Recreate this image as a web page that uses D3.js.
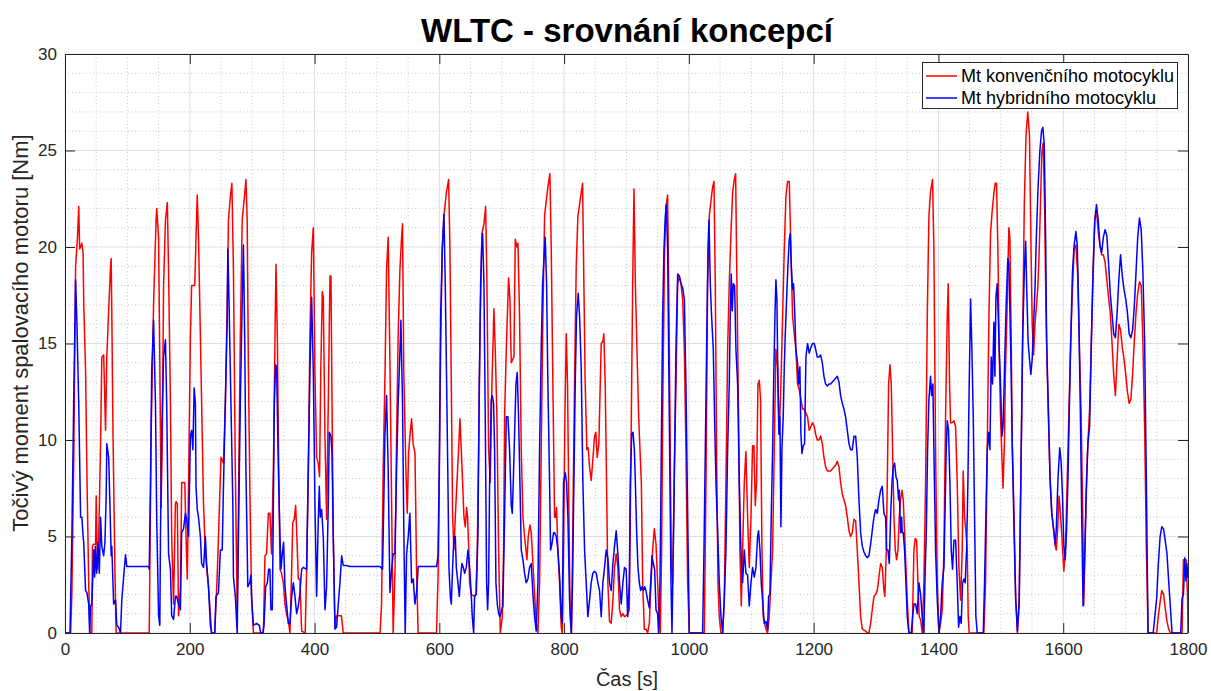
<!DOCTYPE html>
<html>
<head>
<meta charset="utf-8">
<script src="https://cdn.jsdelivr.net/npm/d3@7"></script>
<style>
  html, body { margin: 0; padding: 0; background: #ffffff; }
  svg { display: block; font-family: "Liberation Sans", Arial, Helvetica, sans-serif; }
</style>
</head>
<body>
<svg id="chart" width="1211" height="691"></svg>
<script>
// WLTC cycle: engine torque [Nm] over time [s]
const chartTitle = "WLTC - srovnání koncepcí";
const xLabel = "Čas [s]";
const yLabel = "Točivý moment spalovacího motoru [Nm]";
const seriesNames = ["Mt konvenčního motocyklu", "Mt hybridního motocyklu"];
const xTicks = [0, 200, 400, 600, 800, 1000, 1200, 1400, 1600, 1800];
const yTicks = [0, 5, 10, 15, 20, 25, 30];

// conventional motorcycle: [time s, torque Nm]
const konvencni = [
[0,0],[9,0],[11,2],[14,9],[17,19.0],[20,20.5],[22,22.1],[23.5,19.9],[25,20],[27,20.2],[29,19.7],[30,17.1],[33,13.6],[35,8.5],[38,2.6],[40,0],[43,0],[44,4.5],[46,4.6],[49,4.6],[50,7.1],[52,3.3],[54,4.8],[57,9.8],[59,14.3],[62,14.4],[65,10.5],[67,14.3],[70,16.7],[73,19.0],[74,19.4],[75,16.7],[77,10.2],[80,3.3],[82,0],
[135,0],[138,10.2],[142,17.1],[146,21.4],[147,22.0],[150,20.5],[152,14],[154,6.5],[156,10],[158,18],[161,21.4],[164,22.3],[166,18.8],[169,11.9],[171,5.0],[174,1.5],[177,6.7],[178,6.8],[180,6.7],[182,0.9],[185,2.4],[187,7.8],[192,7.8],[194,5.0],[196,2.8],[198,7.5],[201,15.4],[203,18.0],[208,18.0],[210,20.5],[212,22.7],[214,20.5],[217,15.4],[220,10.2],[222,6.7],[225,4.1],[230,2.4],[235,0],[240,0],[244,3],[246,5],[250,9.1],[254,8.8],[257,11.9],[260,17.1],[262,21.4],[265,22.6],[267.5,23.3],[270,18.8],[273,8.5],[276,0.9],[278,6.7],[281,15.4],[284,21.4],[287,22.4],[290,23.5],[292,21.4],[294,13.6],[296.5,7],[299,2],[302,0],
[318,0],[320.5,4.0],[323,4.1],[326,6.2],[328.5,6.2],[331,4.1],[334,8.5],[336.6,15.4],[338.2,19.1],[340.3,15.4],[342,10.2],[344.6,3.3],[347,3.1],[350,2.6],[352.6,1.5],[355,1.0],[358,0.6],[360.6,0],[363.3,3.3],[365,5.7],[367.5,5.9],[369.7,6.6],[371.3,5.3],[374,2.8],[376.6,2.8],[379.3,0.1],[385,0],[387.3,3.3],[390,8.5],[392.6,15.4],[395.3,19.7],[398,21.0],[400.6,13.6],[403.3,9.1],[406,8.8],[408,8.1],[410,13.6],[412.4,17.7],[414,17.4],[416.7,10.2],[419.3,5.9],[422,11.9],[424.7,18.5],[426.3,18.5],[428,11.9],[430,5.0],[432.7,0.3],[435,0.9],[443,0.9],[446,0],
[505,0],[507.4,1.5],[510,8.5],[513,13.6],[515.4,18.8],[518,20.5],[521,13.6],[523.5,6.7],[526,0],[529,3.3],[531.5,10.2],[534,15.4],[536.8,18.8],[539.5,20.5],[541,21.2],[543,13.6],[546.4,8.5],[548.5,6.2],[550.7,9.3],[552.8,10.2],[555.5,11.1],[558,9.8],[561,9.3],[563.5,3.3],[566,0],[595.5,0],[598,3],[600,8],
[602.1,14.7],[604.7,19.9],[607.4,21.6],[611.2,22.8],[614.9,23.5],[617,19.9],[619.2,12.9],[621.3,6.0],[623.4,4.3],[625.6,6.0],[628.2,7.8],[630.9,9.5],[633,11.1],[635.2,9.5],[637.3,7.8],[639.5,6.0],[641.6,5.5],[643.7,6.5],[645.3,6.0],[646.9,4.6],[648.5,2.6],[651.2,2.0],[656.5,1.9],[658.7,2.0],[660.8,4.3],[663,9.5],[665.6,16.4],[668.3,20.7],[671.5,21.2],[674.2,22.1],[676.3,18.1],[679,9.5],[681.6,7.8],[684.3,12.9],[687.5,16.8],[689.6,14.7],[692.3,11.2],[695,4.3],[697.7,0],[700.9,0.85],[703,4.3],[704.6,11.2],[707.3,14.7],[711,18.4],[713.1,17.3],[715.3,14.0],[717.9,14.2],[719.6,14.3],[721.7,20.4],[724.4,20.0],[726,20.2],[728.6,16.4],[731.3,9.5],[734,6.0],[736.6,5.0],[738.2,4.5],[740.4,3.8],[742.5,5.0],[745.2,5.6],[747.3,5.2],[750,3.6],[752.7,2.0],[755.3,0.5],[758,0],[760.7,2.6],[763.3,9.5],[766,16.4],[768.7,21.6],[771.4,22.4],[774,23.1],[777.2,23.8],[779.4,19.9],[782,12.9],[784.7,6.0],[786.3,6.0],[787.9,6.5],[790,4.3],[792.7,2.6],[795.4,0.3],[797,0],[799.1,4.3],[801.3,11.2],[803.4,15.5],[805.5,12.9],[807.7,6.0],[809.8,0.85],[811.9,0],[814.1,6.0],[816.7,12.9],[819.4,19.0],[822.1,21.6],[824.8,22.2],[827.4,22.8],[829.6,23.3],[831.7,18.1],[833.8,12.9],[836.5,9.5],[838.6,9.6],[840.8,8.6],[843.4,7.9],[846.1,9.0],[848.8,10.2],[850.9,10.4],[853.1,9.1],[855.7,9.8],[857.9,12.9],[859.5,15.0],[862.1,15.1],[863.7,15.5],[865.9,12.9],[868,7.8],[870.1,2.6],[872.8,0.6],[875.5,0.5],[878.2,1.7],[880.8,3.4],[883.5,4.1],[886.2,3.4],[888.8,1.2],[891.5,0.85],[894.2,1.0],[896.8,0.85],[899.5,0.9],[902,1.0],[904.5,1.2],
[907.2,9.5],[909.9,18.1],[912,23.0],[914.2,18.1],[916.8,14.7],[919.5,11.2],[921.6,9.5],[923.8,7.8],[925.9,2.6],[928.6,0.2],[931.2,0.2],[933.9,0],[936.6,0.5],[939.3,2.6],[941.9,4.3],[944.6,5.4],[947.3,4.6],[949.9,2.6],[952.6,0.5],[954.2,0],[956.3,4.3],[958.5,12.9],[961.1,19.9],[963.3,22.1],[965.9,22.7],[967.6,18.1],[969.7,11.2],[971.8,3.4],[974,2.6],[975.6,6.0],[977.2,9.3],[979.3,12.9],[982,18.1],[984.6,18.5],[987.3,18.1],[990,17.3],[992.7,14.7],[995.3,9.5],[998,2.6],[1000.7,0],[1024.7,0],[1027.4,7.8],[1030,18.1],[1032.7,21.6],[1035.4,22.4],[1038,23.1],[1040.2,23.4],[1042.3,18.1],[1044.4,9.5],[1046.6,2.6],[1048.7,0.85],[1051.4,0],[1054.1,0],[1056.7,1.7],[1059.4,7.8],[1062.1,14.7],[1064.7,18.1],[1067.4,20.7],[1070.1,22.8],[1072.8,23.5],[1074.9,23.8],[1077,18.1],[1079.7,11.2],[1081.8,4.3],[1084,1.4],[1086.1,4.3],[1088.8,7.8],[1091.4,9.4],[1094.1,6.0],[1096.8,3.4],[1099.5,6.0],[1102.1,9.7],[1104.3,9.7],[1106.4,6.6],[1108.5,7.8],[1110.7,12.9],[1112.8,13.1],[1114.9,12.1],[1117.1,4.3],[1119.2,0.85],[1121.3,0.5],[1123.5,0.2],[1126.1,0],[1128.8,0.85],[1131.5,2.6],[1134.2,4.3],[1136.8,9.5],[1139.5,14.7],[1142.2,13.8],[1144.8,10.3],[1147.5,12.9],[1150.2,16.4],[1152.9,19.9],[1155.5,22.6],[1158.2,23.4],[1160.9,23.4],[1163.5,19.9],[1166.2,16.4],[1168.9,15.5],[1171.5,14.7],[1174.2,12.9],[1176.9,12.6],[1179.6,12.1],[1182.2,11.6],[1184.9,11.6],[1187.6,11.4],[1190.2,11.2],[1192.9,10.5],[1195.6,10.7],[1198.2,10.9],[1200.9,10.7],
[1203.2,10.3],[1205.8,10.0],[1208.5,10.0],[1211.2,10.2],[1213.9,9.8],[1216.5,9.1],[1219.2,8.6],[1221.9,8.4],[1224.5,8.4],[1227.2,8.4],[1229.9,8.5],[1232.5,8.6],[1235.2,8.7],[1237.9,8.9],[1240.6,8.6],[1243.2,7.8],[1245.9,7.2],[1248.6,6.9],[1251.2,6.6],[1253.9,6.0],[1256.6,5.3],[1259.2,5.0],[1261.9,5.2],[1264.6,5.9],[1267.3,5.8],[1269.9,4.3],[1272.6,2.6],[1275.3,0.85],[1277.9,0.2],[1283.3,0.1],[1285.9,0],[1288.6,0],[1291.3,0.5],[1293.9,1.2],[1296.6,1.9],[1299.3,2.0],[1302,2.2],[1304.6,2.9],[1307.3,3.6],[1310,3.4],[1312.6,2.2],[1314.2,1.9],[1316.4,4.3],[1318,7.8],[1320.1,12.9],[1322.3,13.9],[1324.4,12.9],[1326.5,9.5],[1328.7,6.0],[1330.8,4.3],[1332.9,3.8],[1335.1,4.3],[1337.2,6.0],[1339.3,6.9],[1341.5,7.4],[1343.6,6.9],[1345.7,5.2],[1347.9,3.4],[1350,1.7],[1352.7,0],[1358,0],[1360.7,4.3],[1362.8,4.9],[1365,4.8],[1367.1,2.6],[1369.2,0.85],[1371.4,0.7],[1374,0],[1376.7,2.6],[1379.4,7.8],[1382.1,16.4],[1384.7,21.6],[1387.4,22.9],[1390.6,23.5],[1392.7,19.9],[1395.4,9.5],[1398.1,2.6],[1400.8,0],[1403.4,0.5],[1406.1,1.2],[1408.8,4.3],[1411.4,11.2],[1414.1,16.4],[1415.7,18.1],[1417.8,12.9],[1419.4,10.9],[1422.1,10.9],[1424.8,11.0],[1427.5,10.7],[1430.1,7.8],[1432.8,3.4],[1435.5,1.7],[1438.1,4.3],[1439.7,8.4],[1441.9,6.0],[1444,5.3],[1446.1,4.3],[1447.7,0.85],[1449.3,0],[1472.8,0],[1475.5,2.6],[1478.2,9.5],[1480.9,16.4],[1483.5,20.7],[1486.2,21.9],[1488.9,22.8],[1491,23.3],[1493.1,23.3],[1495.3,19.9],[1497.4,14.7],[1499.5,11.2],
[1501.8,9.1],[1503.5,7.5],[1505.7,9.8],[1507.3,13.4],[1510.1,16.9],[1512.8,21.0],[1514.5,20.5],[1516.7,15.1],[1518.3,9.8],[1521.1,6.2],[1523.8,1.8],[1526.6,0],[1529.4,1.8],[1532.1,8.0],[1534.9,15.1],[1537.6,22.2],[1540.4,25.8],[1543.1,27.0],[1545.9,25.8],[1548.1,20.5],[1550.3,16.0],[1552.5,14.4],[1554.7,16.0],[1556.9,16.9],[1559.1,17.8],[1561.3,19.6],[1563.5,22.2],[1565.7,24.9],[1567.9,25.4],[1570.1,22.2],[1572.3,16.9],[1574.5,13.4],[1576.7,10.7],[1578.9,8.0],[1581.7,6.2],[1584.5,5.4],[1587.2,4.5],[1588.9,4.3],[1591.1,5.4],[1593.3,7.1],[1595.5,6.2],[1598.2,4.8],[1601,3.2],[1603.7,4.5],[1606.5,8.0],[1609.2,11.6],[1612,15.1],[1614.8,17.8],[1617.5,19.9],[1620.3,20.1],[1623,18.7],[1625.8,15.1],[1628.5,11.6],[1631.3,6.2],[1632.9,1.45],[1635.1,4.5],[1637.3,8.0],[1639.5,9.8],[1642.3,11.6],[1645.1,15.1],[1647.8,18.7],[1650.6,21.4],[1653.3,21.9],[1656.1,20.8],[1658.8,20.1],[1661.6,19.6],[1664.3,19.6],[1667.1,19.2],[1669.9,18.3],[1672.6,17.4],[1675.4,16.6],[1678.1,15.1],[1680.9,13.4],[1683.6,12.3],[1686.4,14.2],[1689.1,16.0],[1691.9,15.7],[1694.7,14.8],[1697.4,14.2],[1700.2,13.4],[1702.9,12.5],[1705.7,11.9],[1708.4,12.1],[1711.2,13.4],[1713.9,15.1],[1716.7,16.6],[1719.4,17.6],[1722.2,18.2],[1725,18.0],[1727.7,15.1],[1730.5,10.7],[1733.2,4.5],[1736,0],[1749.8,0],[1752.5,0.9],[1755.3,1.6],[1758,2.2],[1760.8,2.0],[1763.5,1.3],[1766.3,0.6],[1769,0.2],[1771.8,0],[1790.5,0],[1792.7,3.8],[1794.9,3.8],[1797.1,3.8],[1799.3,1.8],[1800,0]
];

// hybrid motorcycle: [time s, torque Nm]
const hybridni = [
[0,0],[8,0],[11,5.0],[14,12.1],[17,18.3],[19,16.2],[22,11.9],[25,6.0],[27,6.0],[29,5.0],[30,4.7],[33,2.2],[35,2.1],[38,1.5],[39.5,0],[41,1.4],[43,1.5],[45,3.3],[46,4.3],[47.5,2.9],[48.6,4.5],[50.7,3.1],[52.9,4.7],[55,3.1],[57,6.0],[59,4.5],[62,4.0],[64,4.7],[66,7.1],[67,9.8],[70,9.1],[72,6.7],[74,4.0],[75,4.5],[78,1.5],[81,1.7],[83,0.4],[86,0.3],[89,0],[91,1.7],[94,2.9],[97,4.05],[99,3.45],
[134,3.45],[135,3.3],[137,7.6],[139,13.6],[142,16.2],[145,11.9],[147,5.9],[150,0.9],[152,0.4],[153,5.0],[155,10.2],[158,14.3],[161,15.2],[163,11.9],[166,4.1],[169,3.3],[171,0.9],[174,0.7],[177,1.9],[179,1.9],[182,1.5],[185,1.2],[187,5.2],[190,5.4],[193,6.2],[195,5.9],[198,5.0],[201,10.2],[203,10.5],[205,9.5],[207,12.7],[209,11.9],[210,7.6],[212,6.4],[214,6.0],[217,5.0],[219,3.6],[222,3.4],[225,5.0],[227,3.6],[230,2.4],[233,0.4],[235,0],[240,0],[242,1.9],[246,2.1],[249,4.3],[252,4.3],[254,7.6],[257,11.9],[260,16.2],[261,19.9],[263,17.1],[266,11.9],[269,6.7],[270,2.9],[273,1.9],[276,0],[278,5.0],[281,11.9],[284,17.1],[286,20.1],[288,15.4],[290,8.5],[293,2.4],[296,2.6],[298,3.0],
[299.2,1.7],[302,0.4],[307,0.5],[311.5,0.4],[313.6,0],[317,0],[319,0.4],[321.6,2.4],[324.3,2.6],[326.4,3.3],[328.5,3.3],[330,1.2],[332.3,1.2],[334,6.7],[335.5,11.9],[337.6,13.9],[339.2,13.8],[342,8.5],[344.6,5.0],[346.2,3.3],[348.3,4.1],[350.4,4.7],[352.6,2.4],[355,1.5],[358,0.5],[360.6,0.5],[363.3,1.9],[366,2.6],[368.6,1.9],[371.3,1.0],[374,1.4],[376.6,2.1],[379.3,3.3],[381.9,3.4],[387.3,3.3],[390,8.5],[392.6,13.6],[395.3,17.4],[398,13.6],[400.6,6.7],[403.3,1.9],[406,5.9],[407.6,7.6],[409.2,6.0],[411.3,6.4],[414,5.0],[416.7,1.2],[419.3,2.4],[422,6.7],[423.6,10.4],[426.3,10.2],[428,9.3],[430,5.0],[432.7,0.2],[435.3,0.3],[438,1.5],[440.7,2.6],[443.4,4.0],[446,3.5],[451,3.5],[456.7,3.45],[504.8,3.45],[509,3.3],[510,5.0],[512.8,10.2],[515.4,12.3],[518,8.5],[520.8,2.1],[523.5,3.3],[526,4.1],[528.8,4.1],[531.5,8.5],[534,11.9],[536.8,14.5],[538.4,16.2],[541,11.9],[543.2,5.0],[545.3,0],[547.5,4.1],[550.2,5.0],[552.8,6.2],[555.5,2.6],[558.2,2.8],[560.8,1.5],[563.5,2.1],[566.2,3.45],[595.5,3.45],[598,4.0],[600,9],
[602.1,16.4],[604.7,19.9],[607.4,21.7],[609.5,18.1],[611.7,12.9],[613.8,7.8],[615.4,3.4],[617.6,1.9],[619.2,1.5],[621.3,3.4],[623.4,5.0],[625.6,5.0],[627.2,3.4],[629.8,2.6],[632,1.9],[634.1,2.9],[636.2,3.6],[638.4,3.4],[640.5,3.1],[643.2,3.4],[645.9,4.3],[648.5,3.4],[651.2,2.0],[652.8,0.85],[655,0],[656.5,1.9],[659.2,2.0],[661.9,5.2],[664,12.9],[666.2,18.1],[667.8,19.9],[669.4,20.7],[671.5,18.1],[673.6,11.2],[675.8,2.6],[677.4,1.2],[679,2.6],[680.6,7.8],[683.2,12.1],[684.8,12.3],[687,11.9],[688.6,9.5],[690.7,2.6],[692.9,1.5],[695,1.0],[697.1,0.85],[699.3,1.1],[701.9,1.4],[704.6,6.0],[707.3,11.2],[709.9,11.2],[712.6,9.5],[715.3,6.6],[716.9,6.2],[718.5,7.8],[720.6,10.3],[722.8,12.9],[724.9,13.5],[727,11.2],[729.2,7.8],[731.3,4.3],[734,3.8],[736.6,3.1],[739.3,2.6],[742,2.8],[744.6,3.4],[747.3,3.6],[750,2.0],[752.7,0.85],[755.3,0.1],[758,2.6],[760.7,9.5],[763.3,14.7],[765.5,18.1],[767.6,19.3],[769.7,20.5],[771.9,18.1],[774,12.9],[776.7,7.8],[778.3,4.3],[780.4,4.6],[783.1,5.2],[784.7,5.2],[787.4,5.0],[790,4.3],[792.7,3.0],[795.4,0.85],[797,0.5],[799.1,7.8],[801.8,8.3],[803.9,7.8],[806.1,6.0],[808.7,1.7],[811.4,0],[813.5,2.6],[815.7,7.8],[817.8,12.9],[819.9,16.4],[822.6,17.6],[824.8,16.4],[827.4,13.8],[830.1,7.8],[832.8,4.3],[835.4,2.6],[838.1,0.85],[840.8,1.7],[843.4,2.6],[846.1,3.1],[848.8,3.2],[851.5,3.1],[854.1,2.6],[856.8,2.2],[859.5,0.85],[862.1,2.6],[864.8,3.4],[867.5,4.3],[870.1,3.9],[872.8,2.6],[875.5,2.2],[878.2,3.6],[880.8,4.5],[883.5,5.3],[886.2,4.1],[888.8,2.6],[891.5,1.5],[894.2,2.6],[896.8,3.4],[899.5,3.3],
[901.9,0.85],[904.5,2.6],[906.1,7.8],[908.3,10.3],[910.4,10.4],[912.6,9.5],[914.2,7.8],[916.3,5.2],[918.4,3.4],[920.6,2.6],[922.7,2.2],[924.8,2.4],[927,2.2],[929.1,2.4],[931.2,2.2],[933.9,1.7],[936.6,1.3],[938.7,2.6],[940.9,4.0],[943,3.6],[945.1,3.3],[947.3,1.2],[949.9,1.0],[951.5,0],[953.7,2.6],[955.8,9.5],[957.9,16.4],[960.1,19.9],[962.2,21.6],[963.8,22.2],[965.9,19.9],[968.6,11.2],[971.3,2.6],[972.9,0],[975,4.3],[977.2,9.5],[979.3,14.7],[982,18.6],[984.6,18.5],[987.3,18.1],[990,17.9],[992.7,17.3],[995.3,12.9],[998,6.0],[1000.7,0],[1022,0],[1024.2,4.3],[1026.3,9.5],[1028.4,14.7],[1030.6,19.9],[1032.2,21.4],[1034.3,18.1],[1036.4,16.4],[1039.1,14.7],[1041.2,11.2],[1043.4,7.8],[1046.1,5.2],[1048.7,2.6],[1051.4,0.85],[1054.1,0],[1056.7,1.7],[1059.4,4.3],[1062.1,9.5],[1064.7,12.9],[1066.3,16.4],[1067.9,18.6],[1069.5,16.7],[1071.1,18.1],[1073.3,18.0],[1075.4,14.7],[1078.1,12.9],[1080.8,7.8],[1083.4,4.3],[1086.1,2.6],[1088.8,4.3],[1091.4,3.1],[1094.1,3.0],[1096.8,1.4],[1099.5,2.6],[1102.1,3.4],[1104.8,2.9],[1107.5,3.4],[1110.1,5.0],[1111.7,5.3],[1113.9,4.3],[1116,2.6],[1118.1,1.7],[1120.8,0.5],[1123.5,0.6],[1126.1,0.2],[1127.8,1.9],[1129.9,2.0],[1132,6.0],[1134.2,9.5],[1135.8,12.9],[1137.9,16.4],[1139.5,18.3],[1141.1,17.3],[1142.7,12.9],[1144.3,10.3],[1145.9,11.2],[1147.5,5.5],[1149.1,9.5],[1151.2,11.2],[1152.9,13.8],[1154.5,15.5],[1156.6,17.3],[1158.7,19.0],[1160.9,20.4],[1162.5,20.7],[1164.1,19.0],[1166.2,17.8],[1167.8,18.1],[1169.9,16.4],[1171.5,14.7],[1174.2,14.0],[1175.8,12.9],[1177.9,13.8],[1179.6,10.3],[1181.2,9.3],[1183.3,9.7],[1185.4,9.8],[1187.6,14.3],[1190.2,15.0],[1192.9,14.5],[1195.6,14.8],[1198.2,15.0],[1200.9,15.0],
[1203.2,14.7],[1205.8,14.3],[1208.5,14.3],[1211.2,14.4],[1213.9,14.0],[1216.5,13.3],[1219.2,12.9],[1221.9,12.8],[1224.5,12.9],[1227.2,12.9],[1229.9,13.0],[1232.5,13.1],[1235.2,13.2],[1237.9,13.3],[1240.6,13.0],[1243.2,12.3],[1245.9,11.9],[1248.6,11.6],[1251.2,11.2],[1253.9,10.5],[1256.6,9.8],[1259.2,9.5],[1261.9,9.5],[1264.6,10.2],[1267.3,10.2],[1269.9,9.1],[1272.6,6.9],[1275.3,5.2],[1277.9,4.5],[1280.6,4.2],[1283.3,4.0],[1285.9,3.9],[1288.6,4.0],[1291.3,4.6],[1293.9,5.3],[1296.6,6.0],[1299.3,6.4],[1302,6.2],[1304.6,6.9],[1307.3,7.4],[1310,7.6],[1312.6,6.2],[1315.3,6.0],[1316.9,4.3],[1319,4.3],[1321.2,3.6],[1323.3,6.0],[1325.5,7.8],[1327.6,8.6],[1329.7,8.8],[1331.9,8.1],[1334,7.9],[1336.1,6.9],[1337.2,7.4],[1339.3,5.2],[1341,6.0],[1342,5.2],[1343.6,5.2],[1345.7,4.3],[1347.9,2.6],[1350,0.85],[1352.7,0],[1356.4,0],[1358.6,0.85],[1360.7,1.5],[1363.4,1.5],[1366,1.0],[1368.7,2.6],[1371.4,2.0],[1374,0.85],[1376.7,0],[1378.3,2.6],[1380.5,5.2],[1382.6,9.5],[1384.7,12.1],[1387.4,13.3],[1389,12.3],[1391.1,12.9],[1392.7,9.5],[1395.4,4.3],[1398.1,1.7],[1400.8,0],[1403.4,0.85],[1406.1,2.6],[1408.8,3.4],[1410.4,6.0],[1412.5,9.5],[1414.1,11.0],[1416.2,10.5],[1418.4,7.8],[1420.5,4.3],[1422.6,3.3],[1424.8,4.8],[1427.5,4.8],[1430.1,2.6],[1432.3,0.3],[1434.4,0.85],[1436.5,0.5],[1438.7,2.6],[1440.8,2.8],[1442.9,2.6],[1445.1,4.3],[1447.2,7.8],[1449.3,12.9],[1451.5,17.3],[1453.6,14.7],[1455.8,11.2],[1457.9,6.0],[1460,0.85],[1462.2,0],[1471.8,0],[1473.9,2.6],[1476,6.0],[1478.2,9.5],[1480.3,10.4],[1482.5,9.5],[1484.6,14.3],[1486.7,12.9],[1488.9,16.1],[1490.5,13.3],[1492.1,17.4],[1494.2,18.1],[1495.8,16.4],[1497.4,14.7],[1499.5,12.9],
[1501.8,10.2],[1503.5,10.7],[1505.7,13.4],[1508.4,16.9],[1511.2,19.4],[1512.8,19.2],[1515.6,15.1],[1518.3,9.8],[1521.1,5.4],[1523.8,1.8],[1526.6,0.1],[1529.4,1.45],[1532.1,8.0],[1534.9,15.1],[1537.6,18.7],[1539.8,20.3],[1541.5,17.8],[1543.7,15.1],[1545.9,14.2],[1548.1,13.4],[1550.3,14.2],[1552.5,16.0],[1554.7,17.8],[1556.9,20.5],[1559.7,23.1],[1562.4,24.9],[1565.2,26.0],[1567.4,26.2],[1569.6,25.3],[1571.8,20.5],[1573.4,15.1],[1576.2,11.6],[1578.9,8.0],[1581.7,6.2],[1584.5,5.4],[1587.2,4.6],[1588.9,5.4],[1591.6,8.0],[1594.4,9.6],[1596.6,8.9],[1598.8,7.1],[1601,4.5],[1603.2,3.8],[1605.4,5.4],[1607.6,8.0],[1609.8,11.6],[1612,15.1],[1614.8,18.7],[1617.5,20.1],[1620.3,20.8],[1622.5,20.1],[1624.7,16.9],[1627.4,11.6],[1629.6,6.2],[1631.8,1.4],[1634,3.6],[1636.8,7.1],[1639.5,9.8],[1642.3,10.7],[1645.1,15.1],[1647.8,18.7],[1650.6,21.4],[1653.3,22.2],[1656.1,21.4],[1658.8,20.1],[1661.6,19.7],[1664.3,20.5],[1667.1,20.9],[1669.9,20.6],[1672.6,19.2],[1675.4,17.6],[1678.1,16.6],[1680.9,15.5],[1683.6,15.3],[1686.4,16.6],[1689.1,18.3],[1691.9,19.6],[1694.7,18.5],[1697.4,17.8],[1700.2,17.3],[1702.9,16.6],[1705.7,15.5],[1708.4,15.3],[1711.2,15.7],[1713.9,16.9],[1716.7,18.7],[1719.4,20.5],[1722.2,21.5],[1725,20.9],[1727.7,18.7],[1730.5,15.1],[1733.2,8.0],[1736,0],[1744.2,0],[1747,0.9],[1749.8,1.8],[1752.5,3.6],[1755.3,5.0],[1758,5.5],[1760.8,5.4],[1763.5,4.8],[1766.3,4.1],[1769,2.7],[1771.8,1.3],[1774.5,0],[1788.3,0],[1790.5,1.8],[1792.7,2.0],[1794.9,3.9],[1796.6,2.7],[1798.2,3.6],[1799.3,2.9],[1800,3.4]
];

const lineColors = ["#ff0000", "#0000ff"];

const svg = d3.select("#chart");
const W = 1211, H = 691;
const plot = { left: 65, right: 1188, top: 54, bottom: 633 };

svg.append("rect").attr("width", W).attr("height", H).attr("fill", "#ffffff");

const x = d3.scaleLinear().domain([0, 1800]).range([plot.left, plot.right]);
const y = d3.scaleLinear().domain([0, 30]).range([plot.bottom, plot.top]);

// minor grid (dotted)
const grid = svg.append("g");
const xMinor = d3.range(0, 1801, 50).filter(v => v % 200 !== 0);
const yMinor = d3.range(0, 31, 1).filter(v => v % 5 !== 0);
grid.selectAll("line.xm").data(xMinor).join("line")
  .attr("x1", d => x(d)).attr("x2", d => x(d))
  .attr("y1", plot.top).attr("y2", plot.bottom)
  .attr("stroke", "#c8c8c8").attr("stroke-width", 1).attr("stroke-dasharray", "1,2.5");
grid.selectAll("line.ym").data(yMinor).join("line")
  .attr("x1", plot.left).attr("x2", plot.right)
  .attr("y1", d => y(d)).attr("y2", d => y(d))
  .attr("stroke", "#c8c8c8").attr("stroke-width", 1).attr("stroke-dasharray", "1,2.5");
// major grid
grid.selectAll("line.xM").data(xTicks).join("line")
  .attr("x1", d => x(d)).attr("x2", d => x(d))
  .attr("y1", plot.top).attr("y2", plot.bottom)
  .attr("stroke", "#dedede").attr("stroke-width", 1);
grid.selectAll("line.yM").data(yTicks).join("line")
  .attr("x1", plot.left).attr("x2", plot.right)
  .attr("y1", d => y(d)).attr("y2", d => y(d))
  .attr("stroke", "#dedede").attr("stroke-width", 1);

// series
const line = d3.line().x(d => x(d[0])).y(d => y(d[1]));
svg.append("clipPath").attr("id", "plotclip").append("rect")
  .attr("x", plot.left).attr("y", plot.top)
  .attr("width", plot.right - plot.left).attr("height", plot.bottom - plot.top);
const seriesG = svg.append("g").attr("clip-path", "url(#plotclip)");
[konvencni, hybridni].forEach((data, i) => {
  seriesG.append("path").datum(data)
    .attr("d", line)
    .attr("fill", "none")
    .attr("stroke", lineColors[i])
    .attr("stroke-width", 1.5)
    .attr("stroke-linejoin", "round");
});

// axes (box with inward ticks)
const axisColor = "#262626";
const tickLen = 10;
const fontTicks = 17;
const gx = svg.append("g").attr("transform", `translate(0,${plot.bottom})`)
  .call(d3.axisBottom(x).tickValues(xTicks).tickSize(-tickLen).tickPadding(10).tickFormat(d3.format("d")));
const gy = svg.append("g").attr("transform", `translate(${plot.left},0)`)
  .call(d3.axisLeft(y).tickValues(yTicks).tickSize(-tickLen).tickPadding(8).tickFormat(d3.format("d")));
const gxt = svg.append("g").attr("transform", `translate(0,${plot.top})`)
  .call(d3.axisTop(x).tickValues(xTicks).tickSize(-tickLen).tickFormat(""));
const gyr = svg.append("g").attr("transform", `translate(${plot.right},0)`)
  .call(d3.axisRight(y).tickValues(yTicks).tickSize(-tickLen).tickFormat(""));
[gx, gy, gxt, gyr].forEach(g => {
  g.select(".domain").attr("stroke", axisColor).attr("stroke-width", 1);
  g.selectAll(".tick line").attr("stroke", axisColor).attr("stroke-width", 1);
  g.selectAll(".tick text").attr("fill", "#262626")
    .style("font-family", '"Liberation Sans", Arial, sans-serif').style("font-size", fontTicks + "px");
});
gx.select(".domain").attr("d", `M${plot.left},0.5H${plot.right}`);
gxt.select(".domain").attr("d", `M${plot.left},0.5H${plot.right}`);
gy.select(".domain").attr("d", `M0.5,${plot.top}V${plot.bottom}`);
gyr.select(".domain").attr("d", `M0.5,${plot.top}V${plot.bottom}`);

// title and axis labels
svg.append("text").attr("x", 627).attr("y", 42).attr("text-anchor", "middle")
  .style("font-size", "33px").style("font-weight", "bold").attr("fill", "#000")
  .text(chartTitle);
svg.append("text").attr("x", 627).attr("y", 686).attr("text-anchor", "middle")
  .style("font-size", "20px").attr("fill", "#262626").text(xLabel);
svg.append("text").attr("transform", "translate(28,333) rotate(-90)")
  .attr("text-anchor", "middle").style("font-size", "22px").attr("fill", "#262626").text(yLabel);

// legend
const lg = svg.append("g");
lg.append("rect").attr("x", 922.5).attr("y", 62.5).attr("width", 255).attr("height", 46)
  .attr("fill", "#ffffff").attr("stroke", "#262626").attr("stroke-width", 1);
seriesNames.forEach((name, i) => {
  const yy = 76 + i * 22;
  lg.append("line").attr("x1", 926).attr("x2", 957).attr("y1", yy).attr("y2", yy)
    .attr("stroke", lineColors[i]).attr("stroke-width", 1.5);
  lg.append("text").attr("x", 961).attr("y", yy).attr("dy", "0.35em")
    .style("font-size", "18px").attr("fill", "#000").text(name);
});
</script>
</body>
</html>
